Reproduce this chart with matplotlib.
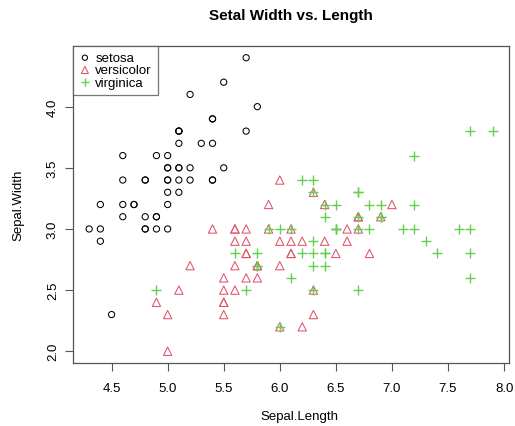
import matplotlib
matplotlib.use("Agg")
import matplotlib.pyplot as plt

plt.rcParams['font.family'] = ['Liberation Sans', 'DejaVu Sans']

species = ["setosa", "versicolor", "virginica"]

setosa_length = [5.1, 4.9, 4.7, 4.6, 5.0, 5.4, 4.6, 5.0, 4.4, 4.9, 5.4, 4.8, 4.8, 4.3, 5.8, 5.7, 5.4, 5.1, 5.7, 5.1,
                 5.4, 5.1, 4.6, 5.1, 4.8, 5.0, 5.0, 5.2, 5.2, 4.7, 4.8, 5.4, 5.2, 5.5, 4.9, 5.0, 5.5, 4.9, 4.4, 5.1,
                 5.0, 4.5, 4.4, 5.0, 5.1, 4.8, 5.1, 4.6, 5.3, 5.0]
setosa_width = [3.5, 3.0, 3.2, 3.1, 3.6, 3.9, 3.4, 3.4, 2.9, 3.1, 3.7, 3.4, 3.0, 3.0, 4.0, 4.4, 3.9, 3.5, 3.8, 3.8,
                3.4, 3.7, 3.6, 3.3, 3.4, 3.0, 3.4, 3.5, 3.4, 3.2, 3.1, 3.4, 4.1, 4.2, 3.1, 3.2, 3.5, 3.6, 3.0, 3.4,
                3.5, 2.3, 3.2, 3.5, 3.8, 3.0, 3.8, 3.2, 3.7, 3.3]

versicolor_length = [7.0, 6.4, 6.9, 5.5, 6.5, 5.7, 6.3, 4.9, 6.6, 5.2, 5.0, 5.9, 6.0, 6.1, 5.6, 6.7, 5.6, 5.8, 6.2, 5.6,
                     5.9, 6.1, 6.3, 6.1, 6.4, 6.6, 6.8, 6.7, 6.0, 5.7, 5.5, 5.5, 5.8, 6.0, 5.4, 6.0, 6.7, 6.3, 5.6, 5.5,
                     5.5, 6.1, 5.8, 5.0, 5.6, 5.7, 5.7, 6.2, 5.1, 5.7]
versicolor_width = [3.2, 3.2, 3.1, 2.3, 2.8, 2.8, 3.3, 2.4, 2.9, 2.7, 2.0, 3.0, 2.2, 2.9, 2.9, 3.1, 3.0, 2.7, 2.2, 2.5,
                    3.2, 2.8, 2.5, 2.8, 2.9, 3.0, 2.8, 3.0, 2.9, 2.6, 2.4, 2.4, 2.7, 2.7, 3.0, 3.4, 3.1, 2.3, 3.0, 2.5,
                    2.6, 3.0, 2.6, 2.3, 2.7, 3.0, 2.9, 2.9, 2.5, 2.8]

virginica_length = [6.3, 5.8, 7.1, 6.3, 6.5, 7.6, 4.9, 7.3, 6.7, 7.2, 6.5, 6.4, 6.8, 5.7, 5.8, 6.4, 6.5, 7.7, 7.7, 6.0,
                    6.9, 5.6, 7.7, 6.3, 6.7, 7.2, 6.2, 6.1, 6.4, 7.2, 7.4, 7.9, 6.4, 6.3, 6.1, 7.7, 6.3, 6.4, 6.0, 6.9,
                    6.7, 6.9, 5.8, 6.8, 6.7, 6.7, 6.3, 6.5, 6.2, 5.9]
virginica_width = [3.3, 2.7, 3.0, 2.9, 3.0, 3.0, 2.5, 2.9, 2.5, 3.6, 3.2, 2.7, 3.0, 2.5, 2.8, 3.2, 3.0, 3.8, 2.6, 2.2,
                   3.2, 2.8, 2.8, 2.7, 3.3, 3.2, 2.8, 3.0, 2.8, 3.0, 2.8, 3.8, 2.8, 2.8, 2.6, 3.0, 3.4, 3.1, 3.0, 3.1,
                   3.1, 3.1, 2.7, 3.2, 3.3, 3.0, 2.5, 3.0, 3.4, 3.0]

x_ticks = [4.5, 5.0, 5.5, 6.0, 6.5, 7.0, 7.5, 8.0]
y_ticks = [2.0, 2.5, 3.0, 3.5, 4.0]

colors = ["#000000", "#DF536B", "#61D04F"]

W, H = 515, 427
fig = plt.figure(figsize=(W / 100, H / 100), dpi=100)
L, R, T, B = 73, 509, 47, 364
ax = fig.add_axes([L / W, 1 - B / H, (R - L) / W, (B - T) / H])

handles = []
h = ax.scatter(setosa_length, setosa_width, s=20, facecolors='none', edgecolors=colors[0], linewidths=0.75, marker='o')
handles.append(h)
h = ax.scatter(versicolor_length, versicolor_width, s=36, facecolors='none', edgecolors=colors[1], linewidths=0.75, marker='^')
handles.append(h)
h = ax.scatter(virginica_length, virginica_width, s=45, c=colors[2], linewidths=1.0, marker='+')
handles.append(h)

allx = setosa_length + versicolor_length + virginica_length
ally = setosa_width + versicolor_width + virginica_width
xr = max(allx) - min(allx)
yr = max(ally) - min(ally)
ax.set_xlim(min(allx) - 0.04 * xr, max(allx) + 0.04 * xr)
ax.set_ylim(min(ally) - 0.04 * yr, max(ally) + 0.04 * yr)

ax.set_xticks(x_ticks)
ax.set_xticklabels([f"{t:.1f}" for t in x_ticks])
ax.set_yticks(y_ticks)
ax.set_yticklabels([f"{t:.1f}" for t in y_ticks], rotation=90, va='center', ha='center')
ax.tick_params(direction='out', length=5.5, width=0.8, color='#555555', labelsize=9.5)
ax.tick_params(axis='x', pad=8)
ax.tick_params(axis='y', pad=9)
for sp in ax.spines.values():
    sp.set_color('#555555')
    sp.set_linewidth(0.9)

ax.set_xlabel("Sepal.Length", fontsize=9.5, va='center')
ax.xaxis.set_label_coords((299 - L) / (R - L), -(417 - B) / (B - T))
ax.set_ylabel("Sepal.Width", fontsize=9.5, va='center')
ax.yaxis.set_label_coords(-(L - 18) / (R - L), 0.5)
fig.text(0.5 * (L + R) / W, 1 - 16 / H, "Setal Width vs. Length", fontsize=11, fontweight='bold',
         ha='center', va='center')

leg = ax.legend(handles, species, loc='upper left', bbox_to_anchor=(0, 1), borderaxespad=0,
                frameon=True, fancybox=False, fontsize=9.5, handletextpad=0.35, handlelength=0.9,
                labelspacing=0.0, borderpad=0.45, markerscale=0.85)
leg.get_frame().set_edgecolor('#555555')
leg.get_frame().set_linewidth(0.9)

fig.savefig("out.png", dpi=100)
